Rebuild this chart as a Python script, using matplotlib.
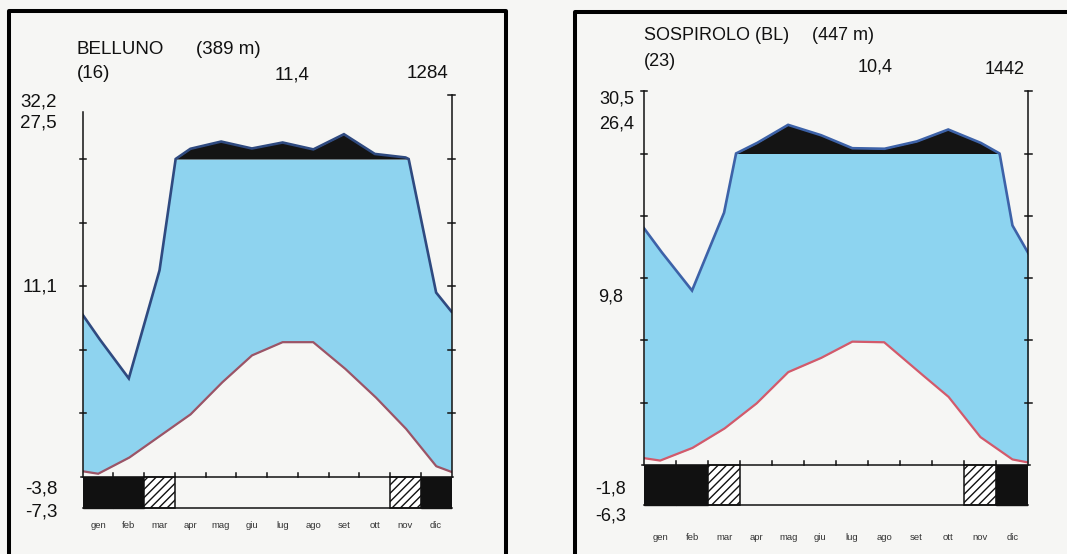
import numpy as np
import matplotlib
matplotlib.use("Agg")
import matplotlib.pyplot as plt
from matplotlib.patches import Rectangle
from matplotlib.lines import Line2D

# --- data ---
months = ["gen", "feb", "mar", "apr", "mag", "giu", "lug", "ago", "set", "ott", "nov", "dic"]

# Belluno (389 m)
bl_temp = [0.5, 3.0, 6.4, 9.8, 14.7, 19.1, 21.2, 21.2, 17.2, 12.7, 7.7, 1.7]
bl_temp_edges = (0.9, 0.8)
bl_prec = [44, 31, 65, 132, 155, 133, 152, 130, 178, 116, 105, 58]
bl_prec_edges = (51, 52)
bl_frost = [2, 2, 1, 0, 0, 0, 0, 0, 0, 0, 1, 2]
bl_header = ["BELLUNO", "(389 m)", "(16)", "11,4", "1284"]
bl_side = ["32,2", "27,5", "11,1", "-3,8", "-7,3"]

# Sospirolo (447 m)
sp_temp = [0.7, 2.7, 5.8, 9.8, 14.9, 17.1, 19.8, 19.7, 15.3, 11.0, 4.5, 0.9]
sp_temp_edges = (1.1, 0.4)
sp_prec = [69, 56, 81, 132, 192, 160, 117, 115, 138, 177, 135, 77]
sp_prec_edges = (76, 68)
sp_frost = [2, 2, 1, 0, 0, 0, 0, 0, 0, 0, 1, 2]
sp_header = ["SOSPIROLO (BL)", "(447 m)", "(23)", "10,4", "1442"]
sp_side = ["30,5", "26,4", "9,8", "-1,8", "-6,3"]

W, H = 1067, 554
plt.rcParams["font.family"] = ["Liberation Sans", "DejaVu Sans"]
fig = plt.figure(figsize=(W / 100, H / 100), dpi=100, facecolor="#f6f6f4")


def fx(px):
    return px / W


def fy(py):
    return 1 - py / H


def wl(p):
    # Walter-Lieth precipitation scale: 20 mm = 10 C below 100 mm, 200 mm = 10 C above
    p = np.asarray(p, float)
    return np.where(p <= 100, p / 2, 50 + (p - 100) / 20)


def txt(x, y, s, ha="left", size=13.5, color="#111111"):
    fig.text(fx(x), fy(y), s, ha=ha, va="center", fontsize=size, color=color)


def panel(x0, x1, y0, ppu, strip, temp, temp_edges, prec, prec_edges, frost,
          blue, line, red, left_top, left_cap, label_y):
    ylo, yhi = -strip - 8, 64
    bottom = y0 - ylo * ppu
    top = y0 - yhi * ppu
    ax = fig.add_axes([fx(x0), fy(bottom), fx(x1) - fx(x0), (bottom - top) / H])
    ax.set_xlim(0, 12)
    ax.set_ylim(ylo, yhi)
    ax.axis("off")

    xs = np.concatenate([[0], np.arange(12) + 0.5, [12]])
    t = np.concatenate([[temp_edges[0]], temp, [temp_edges[1]]])
    p = np.concatenate([[prec_edges[0]], prec, [prec_edges[1]]])
    xf = np.linspace(0, 12, 2401)
    tf = np.interp(xf, xs, t)
    pf = wl(np.interp(xf, xs, p))

    ax.fill_between(xf, tf, np.minimum(pf, 50), where=pf >= tf, color=blue, lw=0, interpolate=True)
    ax.fill_between(xf, 50, pf, where=pf > 50, color="#141414", lw=0, interpolate=True)
    ax.plot(xf, pf, color=line, lw=1.9, solid_joinstyle="miter")
    ax.plot(xf, tf, color=red, lw=1.6)

    k = dict(color="#111111", lw=1.1, clip_on=False)
    ax.plot([0, 0], [0, left_top], **k)
    ax.plot([12, 12], [0, 60], **k)
    for v in range(10, 61, 10):
        if v < 60 or left_cap:
            ax.plot([-0.1, 0.1], [v, v], **k)
        ax.plot([11.9, 12.1], [v, v], **k)
    ax.plot([-0.07, 12.05], [0, 0], **k)
    for i in range(1, 12):
        ax.plot([i, i], [0, 0.6], **k)

    for i, c in enumerate(frost):
        if c == 2:
            ax.add_patch(Rectangle((i, -strip), 1, strip, fc="#111111", ec="#111111", lw=1))
        elif c == 1:
            ax.add_patch(Rectangle((i, -strip), 1, strip, fc="white", ec="#111111",
                                   hatch="////", lw=1.1))
    ax.plot([0, 12], [-strip, -strip], **k)

    shift = matplotlib.transforms.ScaledTranslation(0, -(label_y - y0) / 100, fig.dpi_scale_trans)
    for i, m in enumerate(months):
        ax.text(i + 0.5, 0, m, fontsize=6.8, color="#333333", ha="center", va="center",
                transform=ax.transData + shift)
    return ax


# Belluno panel
panel(82.7, 451.5, 477, 6.36, 4.9, bl_temp, bl_temp_edges, bl_prec, bl_prec_edges, bl_frost,
      "#8ed3ef", "#2f4a80", "#9c5466", 57.4, False, 526)
txt(77, 49, bl_header[0])
txt(196, 49, bl_header[1])
txt(77, 74, bl_header[2])
txt(292, 75, bl_header[3], ha="center")
txt(448, 74, bl_header[4], ha="right")
for s, y in zip(bl_side, [102, 123, 287, 489, 512]):
    txt(57, y, s, ha="right")

# Sospirolo panel
panel(644, 1028.3, 465, 6.23, 6.4, sp_temp, sp_temp_edges, sp_prec, sp_prec_edges, sp_frost,
      "#8dd4f0", "#3d62a8", "#d35a6b", 60, True, 537)
txt(644, 35, sp_header[0], size=13)
txt(812, 36, sp_header[1], size=13)
txt(644, 62, sp_header[2], size=13)
txt(875, 67, sp_header[3], ha="center", size=13)
txt(1025, 69, sp_header[4], ha="right", size=13)
for s, y, x in zip(sp_side, [99, 124, 297, 489, 516], [634, 634, 623, 626, 626]):
    txt(x, y, s, ha="right", size=13)

# scanned page frames
for pts in ([(9.3, 600), (9.3, 11.3), (506.3, 11.3), (506.3, 600)],
            [(575.3, 600), (575.3, 12), (1100, 12)]):
    xs_, ys_ = zip(*pts)
    fig.add_artist(Line2D([fx(v) for v in xs_], [fy(v) for v in ys_], color="black", lw=2.9,
                          transform=fig.transFigure))

fig.savefig("out.png", dpi=100, facecolor=fig.get_facecolor())
